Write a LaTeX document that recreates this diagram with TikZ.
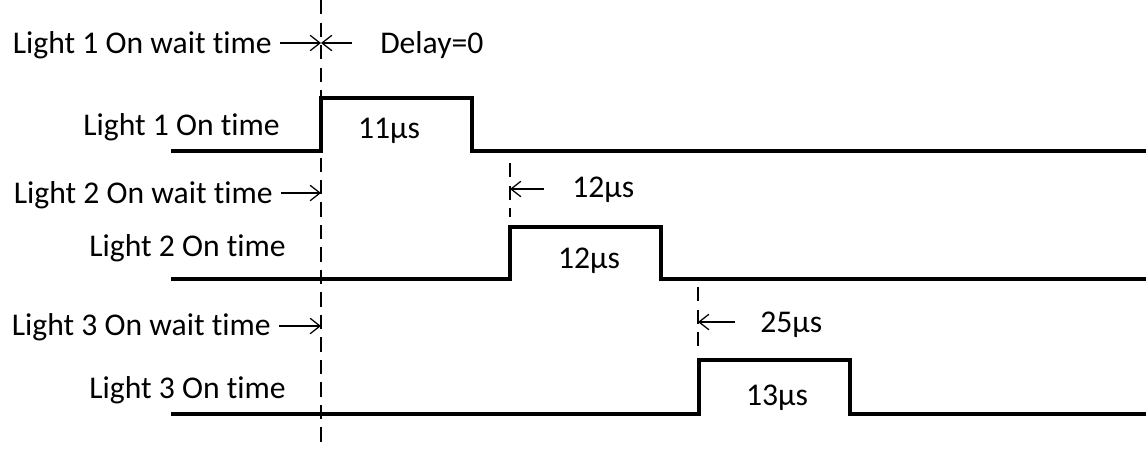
\documentclass[tikz,border=0pt]{standalone}
\usepackage{fontspec}
\setmainfont{Carlito}[Ligatures={NoCommon}]
\usetikzlibrary{arrows.meta,positioning}

\begin{document}
\begin{tikzpicture}[
    x=0.025cm, y=-0.025cm,
    font=\fontsize{22.5}{26}\selectfont,
    signal/.style={line width=2.6pt, line join=miter},
    guide/.style={line width=1.1pt, dash pattern=on 10pt off 6pt},
    pointer/.style={-{Straight Barb[length=7pt, width=11pt]}, line width=0.9pt},
    rowlabel/.style={anchor=base east, inner xsep=0pt, inner ysep=0pt},
    waitlabel/.style={anchor=base east, inner xsep=5.7pt, inner ysep=0pt},
    delaylabel/.style={anchor=base west, inner sep=0pt},
    pulselabel/.style={anchor=base, inner sep=0pt}
  ]
    \useasboundingbox (0,0) rectangle (1146,449);

    % common start of all wait times
    \coordinate (starttop) at (321,0);
    \coordinate (startbot) at (321,447);
    \draw[guide] (starttop) -- (startbot);

    % light 1
    \node[waitlabel] (wait1) at (280,53) {Light 1 On wait time};
    \coordinate (mark1) at (321,43);
    \draw[pointer] (wait1.east |- mark1) -- (mark1);
    \node[delaylabel] (delay1) at (380,53) {Delay=0};
    \draw[pointer, shorten <=22\pgflinewidth] (delay1.west |- mark1) -- (mark1);
    \node[rowlabel] (on1) at (280,135) {Light 1 On time};
    \draw[signal] (171,151) -- (321,151) -- (321,98) -- (472,98)
      -- (472,151) -- (1146,151);
    \node[pulselabel] (len1) at (389,138) {11µs};

    % light 2
    \node[waitlabel] (wait2) at (281,203) {Light 2 On wait time};
    \coordinate (mark2) at (321,193);
    \draw[pointer] (wait2.east |- mark2) -- (mark2);
    \coordinate (rise2top) at (510,163);
    \coordinate (rise2bot) at (510,217);
    \draw[guide] (rise2top) -- (rise2bot);
    \coordinate (mark2b) at (510,189);
    \node[delaylabel] (delay2) at (572,197) {12µs};
    \draw[pointer, shorten <=22\pgflinewidth] (delay2.west |- mark2b) -- (mark2b);
    \node[rowlabel] (on2) at (286,256) {Light 2 On time};
    \draw[signal] (171,279) -- (510,279) -- (510,227) -- (661,227)
      -- (661,279) -- (1146,279);
    \node[pulselabel] (len2) at (589,268) {12µs};

    % light 3
    \node[waitlabel] (wait3) at (279,335) {Light 3 On wait time};
    \coordinate (mark3) at (321,326);
    \draw[pointer] (wait3.east |- mark3) -- (mark3);
    \coordinate (rise3top) at (698,287);
    \coordinate (rise3bot) at (698,350);
    \draw[guide] (rise3top) -- (rise3bot);
    \coordinate (mark3b) at (698,322);
    \node[delaylabel] (delay3) at (760,332) {25µs};
    \draw[pointer, shorten <=20\pgflinewidth] (delay3.west |- mark3b) -- (mark3b);
    \node[rowlabel] (on3) at (286,398) {Light 3 On time};
    \draw[signal] (171,414) -- (699,414) -- (699,360) -- (850,360)
      -- (850,414) -- (1146,414);
    \node[pulselabel] (len3) at (777,405) {13µs};
\end{tikzpicture}
\end{document}
